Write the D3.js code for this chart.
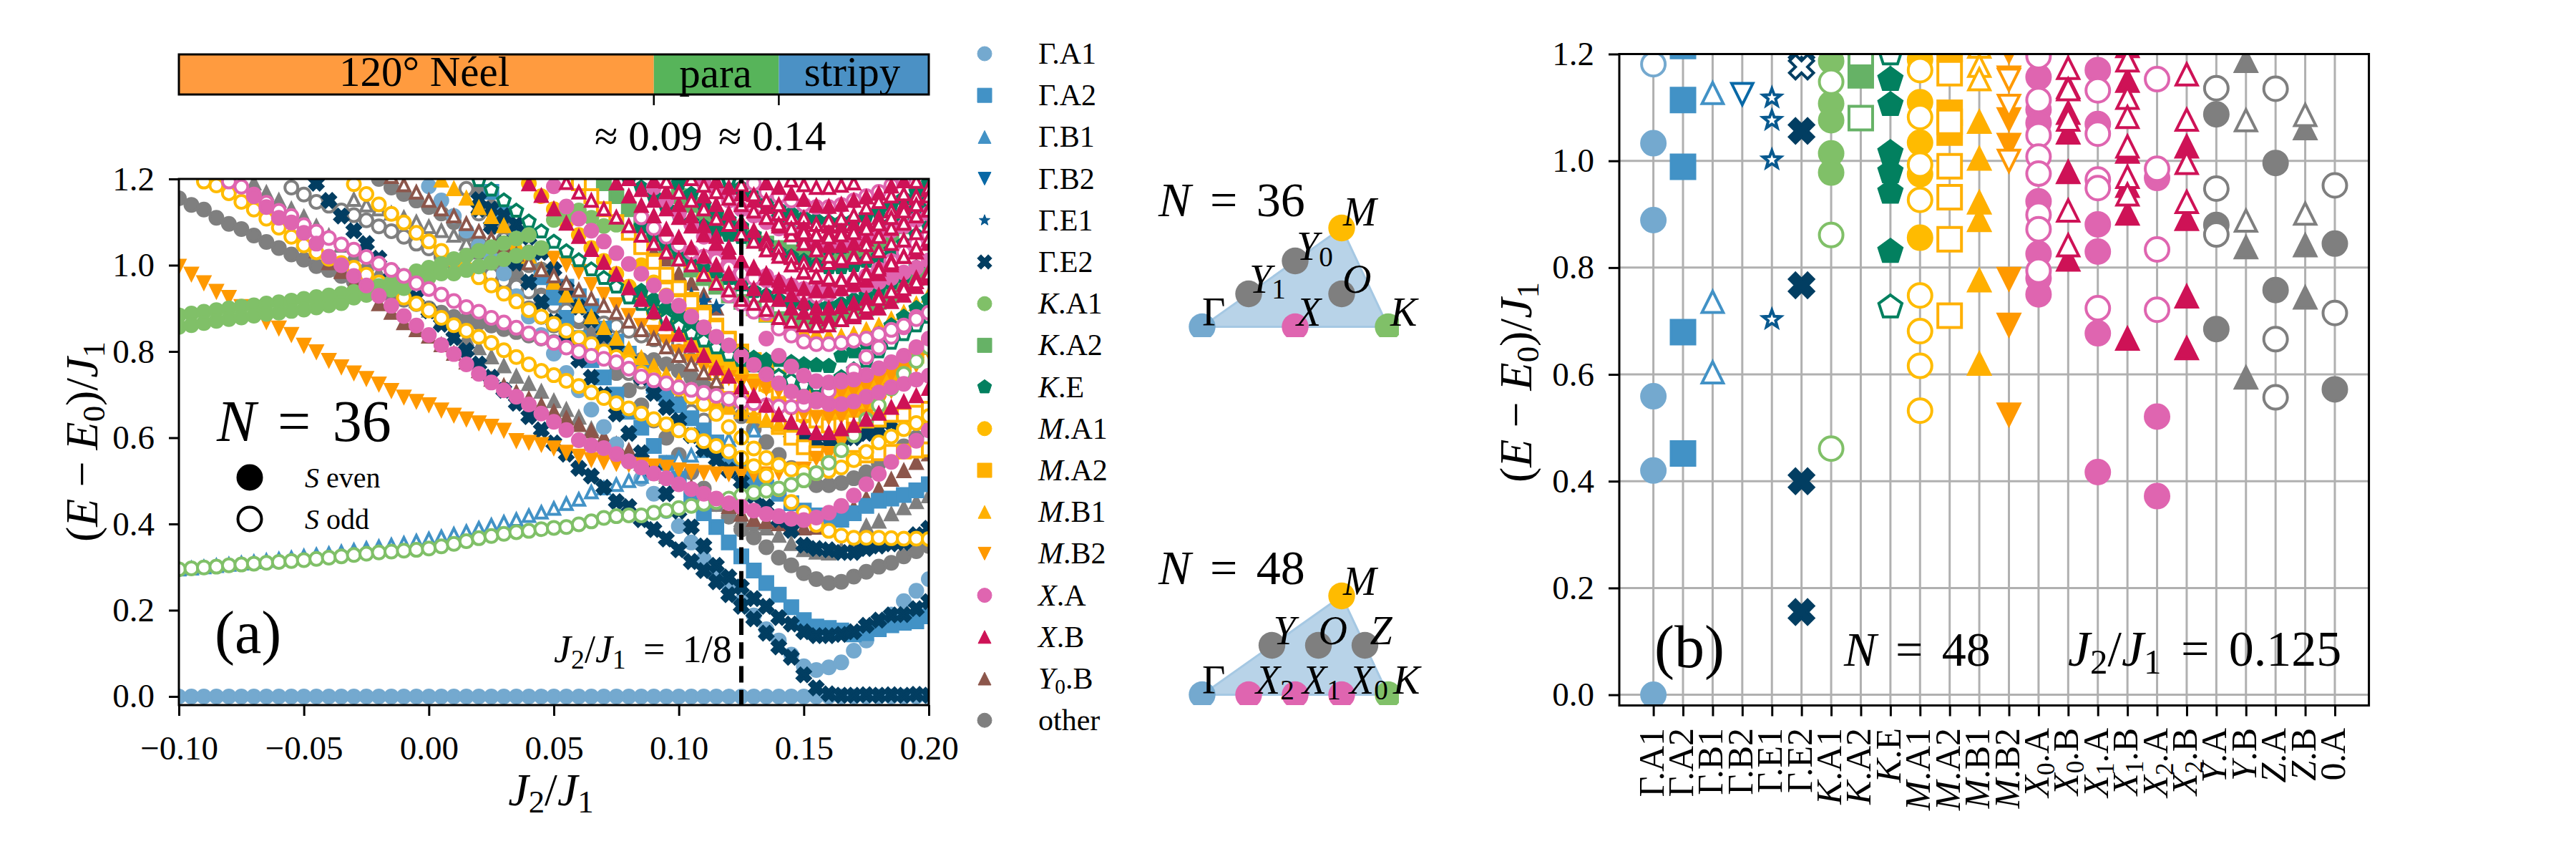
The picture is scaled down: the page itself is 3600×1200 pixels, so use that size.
<!DOCTYPE html>
<html><head><meta charset="utf-8">
<script src="https://cdn.jsdelivr.net/npm/d3@7/dist/d3.min.js"></script>
<style>html,body{margin:0;background:#fff}svg{display:block}text{font-family:"Liberation Serif",serif;white-space:pre;fill:#000}</style>
</head><body><div id="c"></div>
<script>
// ---------- legend / symmetry sectors
const sectors = ["Γ.A1","Γ.A2","Γ.B1","Γ.B2","Γ.E1","Γ.E2","K.A1","K.A2","K.E","M.A1","M.A2","M.B1","M.B2","X.A","X.B","Y0.B","other"];
const sectorText = ["Γ.A1","Γ.A2","Γ.B1","Γ.B2","Γ.E1","Γ.E2","*K*.A1","*K*.A2","*K*.E","*M*.A1","*M*.A2","*M*.B1","*M*.B2","*X*.A","*X*.B","*Y*_0.B","other"];
const sectorColor = ["#74a9cf","#4292c6","#4292c6","#0868a6","#08598f","#023e62","#80c068","#66b266","#02805f","#ffbb00","#ffb000","#ffb000","#ff9900","#df65b0","#ce1256","#8c564b","#7f7f7f"];
const sectorShape = ["o","s","^","v","*","X","o","s","p","o","s","^","v","o","^","^","o"];
// ---------- phase bar
const phaseEdges = [-0.10,0.09,0.14,0.20];
const phaseNames = ["120° Néel","para","stripy"];
const phaseColors = ["#ff9b3f","#57b45a","#4b91c5"];
const gammaA1Ground=[0,0,0,0,0,0,0,0,0,0,0,0,0,0,0,0,0,0,0,0,0,0,0,0,0,0,0,0,0,0,0,0,0,0,0,0,0,0,0,0,0,0,0,0,0,0,0,0,0,0,0,0,0,0,0,0,0,0,0,0,0];
const gammaA1Second=[1.183,1.15,1.114,1.08,1.045,1.015,.981,.928,.881,.838,.795,.75,.71,.665,.625,.585,.545,.505,.47,.43,.395,.357,.319,.286,.257,.221,.188,.156,.13,.097,.07,.0615,.0675,.079,.106,.13,.16,.19,.221,.245,.272];
const gammaA2Low=[1.17,1.12,1.07,1.02,.972,.925,.878,.831,.78,.74,.7,.66,.623,.581,.542,.505,.458,.425,.393,.357,.325,.292,.263,.236,.207,.177,.162,.159,.153,.144,.147,.156,.165,.171,.174,.186];
const gammaA2High=[.95,.928,.905,.853,.823,.795,.76,.72,.7,.675,.645,.617,.589,.555,.525,.5,.485,.47,.448,.431,.42,.415,.41,.425,.442,.454,.459,.467,.478,.492];
const gammaB1Odd=[.295,.297,.3,.303,.306,.309,.312,.315,.318,.321,.325,.328,.331,.335,.339,.343,.347,.351,.355,.36,.365,.37,.376,.382,.39,.397,.404,.41,.419,.427,.436,.447,.457,.474,.483,.491,.5,.51,.525,.54,.553,.559,.57,.582,.595,.605,.617,.64];
const gammaE1Even=[.93,.917,.903];
const gammaE2A=[1.19,1.15,1.114,1.08,1.05,1.016,.985,.955,.925,.894,.863,.832,.802,.771,.74,.71,.68,.649,.618,.588,.562,.529,.511,.485,.452,.44,.41,.387,.365,.34,.313,.292,.266,.236,.209,.18,.147,.115,.091,.05,.02,.006,.003,.003,.004,.003,.004,.003,.005,.003];
const gammaE2B=[1.13,1.09,1.05,1.005,.961,.914,.87,.825,.78,.74,.7,.655,.61,.565,.52,.47,.43,.393,.349,.304,.277,.254,.227,.209,.183,.168,.15,.141,.141,.144,.15,.165,.177,.189,.19,.2035,.22];
const gammaE2C=[1.152,1.13,1.115,1.094,1.065,1.03,.99,.945,.903,.873,.837,.803,.78,.74,.703,.67,.64,.605,.573,.55,.525,.498,.465,.44,.41,.385,.351,.343,.34,.334,.334,.343,.349,.354,.357,.375,.39];
const gammaE2D=[.63,.61,.6,.592,.59,.595,.6,.61,.62,.635];
const kA1EvenA=[.884,.888,.892,.896,.9,.904,.907,.911,.914,.918,.922,.926,.93,.934,.938,.945,.952,.96,.975,.986,.994,1.003,1.014,1.022,1.033,1.042,1.051,1.062,1.07];
const kA1EvenB=[.857,.861,.866,.871,.875,.879,.883,.887,.89,.894,.897,.902,.907,.912,.925,.931,.939,.943,.947,.972,.972,.981,.981,.989,.997,1.006,1.014,1.022,1.029,1.04];
const kA1EvenC=[1.105,1.115,1.127,1.11,1.091,1.094];
const kA1Odd=[.295,.297,.299,.301,.304,.306,.308,.31,.312,.314,.316,.319,.322,.325,.328,.331,.334,.336,.338,.34,.343,.348,.354,.36,.367,.372,.377,.381,.384,.388,.391,.393,.399,.406,.414,.418,.42,.42,.426,.431,.437,.442,.447,.451,.459,.466,.473,.477,.482,.491,.501,.518,.542,.571,.606,.642,.675,.714,.748,.778,.81];
const kA2Even=[1.16,1.14,1.12,1.105,1.09,1.075,1.06,1.05,1.04,1.03,1.025,1.02,1.02,1.025,1.03,1.04,1.05,1.07,1.09,1.11,1.13];
const kA2EvenB=[1.19,1.16,1.13,1.1,1.07,1.04,1.015,.99,.97,.95,.93,.915,.9,.885,.875,.87,.865,.865,.87,.875,.885,.9,.915,.93,.95,.97,.99];
const kEOdd=[1.197,1.175,1.15,1.126,1.101,1.078,1.054,1.032,1.011,.99,.97,.95,.925,.91,.89,.875,.859,.842,.825,.809,.792,.78,.767,.753,.743,.733,.722,.72,.725,.74,.758,.778,.8,.82,.84,.86,.88];
const kEOdd2=[1.2,1.18,1.16,1.14,1.11,1.08,1.05,1.039,1.039,1.042,1.06,1.072,1.083,1.097,1.11,1.13,1.15];
const kEEvenA=[.94,.92,.9,.885,.865,.85,.83,.81,.795,.785,.78,.78,.775,.77,.768,.766,.79,.8,.82,.84,.86,.88,.9,.92];
const kEEvenB=[1.09,1.07,1.05,1.03,1.015,1.0,.985,.97,.955,.94,.93,.92,.915,.91,.905,.905,.91,.92,.93,.945,.96,.975,.995,1.01];
const kEEvenC=[1.2,1.18,1.16,1.133,1.115,1.1,1.09,1.08,1.07,1.065,1.06];
const kEEvenD=[1.19,1.165,1.14,1.12,1.105,1.09,1.07,1.05,1.03,1.02,1.01,1.0,.995,.995,1.0,1.01,1.02,1.035,1.05,1.07,1.09];
const kEEvenE=[1.195,1.175,1.16,1.145,1.13,1.12,1.11,1.105,1.1,1.1,1.105,1.115,1.125,1.14,1.155,1.17,1.19];
const mA1OddLow=[1.194,1.185,1.167,1.147,1.129,1.108,1.087,1.066,1.046,1.03,1.015,1.005,.994,.978,.96,.945,.925,.911,.895,.878,.861,.848,.834,.82,.803,.787,.77,.755,.745,.732,.72,.705,.692,.68,.668,.656,.643,.631,.617,.606,.592,.581,.568,.553,.534,.512,.481,.451,.426,.398,.384,.373,.368,.368,.368,.367,.366,.366,.365];
const mA1OddHigh=[1.188,1.165,1.141,1.119,1.099,1.075,1.055,1.033,1.012,.992,.972,.953,.934,.916,.896,.881,.864,.848,.831,.817,.8,.787,.775,.75,.74,.727,.714,.695,.678,.655,.625,.6,.575,.553,.537,.526,.52,.518,.523,.531,.548,.567,.589,.603,.62,.634,.65];
const mA1Even=[1.0,.96,.93,.9,.878,.864,.84,.8,.77,.74,.72,.69,.67,.65,.64,.64,.65,.66,.68,.7,.72,.75,.78,.81];
const mA1EvenB=[1.19,1.16,1.13,1.1,1.07,1.04,1.01,.98,.95,.92,.89,.865,.84,.82,.8,.78,.765,.75,.74,.73,.72,.71,.705,.7,.7,.705,.715,.725,.74,.755,.77,.79,.81];
const mA2Even=[1.045,1.01,.974,.944,.92,.89,.86,.83,.8,.78,.76,.74,.72,.71,.7,.695,.7,.71,.72,.735,.75,.77,.79,.81];
const mA2OddUpper=[1.19,1.16,1.13,1.1,1.075,1.042,1.008,.978,.947,.914,.884,.856,.828,.795,.76,.725,.708,.68,.655,.64,.628,.63,.635,.64,.642,.653,.653,.658,.667];
const mA2OddLower=[.75,.72,.69,.67,.65,.625,.6,.578,.564,.555,.55,.553,.559,.564,.567,.568,.57,.573];
const mB1Even=[1.197,1.177,1.155,1.133,1.112,1.091,1.05,1.02,.99,.96,.93,.905,.88,.855,.83,.805,.785,.765,.745,.73,.71,.695,.68,.67,.66,.65,.64,.63];
const mB1EvenB=[1.1,1.07,1.04,1.01,.985,.96,.94,.92,.9,.885,.87,.855,.845,.84,.835,.835,.84,.85,.86,.875,.89,.91,.93];
const mB2Low=[.998,.98,.96,.94,.926,.905,.89,.87,.855,.84,.815,.8,.78,.765,.751,.738,.725,.71,.695,.685,.677,.665,.653,.644,.635,.627,.618,.594,.59,.585,.577,.567,.558,.55,.545,.541,.539,.538,.535,.532,.526,.523,.52,.517,.517,.517,.516,.517,.52,.526,.528,.553,.564,.59,.62,.65,.68,.71,.74,.77,.8];
const mB2High=[1.017,1.003,.986,.956,.933,.909,.884,.861,.845,.823,.8,.778,.764,.75,.74,.73,.72,.715,.71,.705,.7,.7,.7,.705,.71,.72,.733,.747,.76,.78,.8];
const mB2Mid=[.67,.655,.648,.648,.65,.66,.68,.7];
const xAEvenMain=[1.16,1.135,1.11,1.099,1.075,1.05,1.02,1.0,.975,.953,.929,.906,.882,.86,.838,.815,.794,.77,.748,.728,.71,.695,.677,.656,.637,.618,.594,.582,.576,.562,.545,.531,.517,.506,.492,.481,.47,.459,.448,.44,.431,.423,.418,.412,.409,.415,.426,.442,.466,.492,.516,.544,.568,.593,.617];
const xAEvenMid=[1.183,1.136,1.108,1.08,1.055,1.028,1.003,.98,.953,.928,.906,.881,.856,.834,.814,.79,.769,.747,.726,.707,.695,.684,.678,.678,.684,.695,.705,.717,.725,.735,.744];
const xAEvenHigh=[1.18,1.15,1.12,1.094,1.066,1.033,1.01,.99,.98,.975,.961,.953,.945,.939,.945,.95,.953,.953,.961,.97,.983,.994,1.011];
const xAEvenLow=[.83,.79,.765,.744,.731,.728,.73,.735,.745,.761,.775,.79,.81,.83];
const xAEvenTop=[1.19,1.17,1.15,1.13,1.115,1.1,1.085,1.075,1.065,1.055,1.05,1.05,1.055,1.06,1.07,1.08,1.09,1.105,1.12];
const xAOddMain=[1.194,1.182,1.164,1.145,1.126,1.114,1.093,1.078,1.063,1.048,1.036,1.019,1.004,.989,.975,.958,.945,.932,.917,.903,.892,.878,.867,.855,.842,.831,.82,.809,.8,.79,.783,.775,.76,.742,.733,.726,.717,.711,.704,.697,.69,.683,.68,.675,.672,.671,.676,.689,.708,.733,.756,.787,.809,.834,.856,.88];
const xAOddHigh=[1.111,1.086,1.066,1.047,1.03,1.02,1.011,.994,.98,.97,.965,.955,.945,.933,.928,.933,.945,.96,.975,.99,1.01,1.03,1.05,1.07];
const xAOddLow=[.93,.91,.892,.889,.853,.837,.823,.817,.817,.82,.825,.83,.84,.85,.86,.875,.89];
const xAOddTop=[1.19,1.17,1.16,1.15,1.14,1.135,1.135,1.14,1.15,1.16,1.17,1.185,1.2];
const xBEven1=[1.188,1.161,1.13,1.097,1.066,1.036,1.006,.978,.947,.92,.892,.864,.839,.814,.79,.761,.742,.717,.697,.675,.653,.636,.623,.611,.611,.62,.628,.642,.656,.67,.683,.697,.714];
const xBEven2=[1.19,1.16,1.138,1.114,1.083,1.064,1.04,1.02,1.0,.98,.96,.945,.93,.92,.9,.89,.88,.875,.875,.88,.89,.9,.915,.93,.95,.97];
const xBEven3=[1.195,1.17,1.14,1.114,1.091,1.066,1.041,1.011,.992,.97,.95,.931,.914,.9,.9,.903,.911,.922,.93,.94,.955,.97,.985];
const xBEven4=[1.16,1.14,1.12,1.1,1.08,1.06,1.028,1.017,.983,.972,.967,.967,.975,.983,.995,1.01,1.02,1.03,1.05];
const xBEven5=[1.19,1.18,1.166,1.152,1.138,1.136,1.141,1.15,1.158,1.166,1.183,1.195];
const xBEven6=[1.1,1.08,1.06,1.05,1.045,1.045,1.05,1.06,1.07,1.085,1.1,1.115,1.13];
const xBEven7=[1.2,1.175,1.15,1.13,1.11,1.09,1.07,1.05,1.03,1.01,.995,.98,.965,.955,.945,.94,.94,.945,.955,.965,.98,1.0,1.02,1.04,1.06];
const xBEven8=[1.195,1.18,1.165,1.15,1.135,1.12,1.11,1.1,1.095,1.09,1.09,1.095,1.1,1.11,1.125,1.14,1.155,1.175];
const xBOdd0=[1.191,1.169,1.15,1.13,1.111,1.091,1.069,1.05,1.03,1.014,1.0,.978,.958,.942,.92,.911,.897,.878,.87,.861,.859,.861,.873,.886,.903,.922,.939,.945,.961,.98];
const xBOdd1=[1.194,1.169,1.15,1.13,1.108,1.094,1.072,1.055,1.05,1.039,1.019,1.005,1.0,1.006,1.01,1.022,1.047,1.066,1.086,1.097,1.114,1.127];
const xBOdd2=[1.186,1.163,1.15,1.119,1.11,1.11,1.094,1.103,1.108,1.116,1.133,1.147,1.16,1.165,1.194];
const xBOdd3=[1.14,1.11,1.085,1.072,1.075,1.078,1.08,1.094,1.1,1.127,1.135,1.16,1.18];
const xBOdd4=[1.197,1.186,1.18,1.18,1.185,1.19];
const xBOdd5=[1.09,1.07,1.05,1.035,1.02,1.015,1.018,1.02,1.033,1.05,1.058,1.075,1.09];
const xBOdd6=[1.2,1.185,1.17,1.155,1.14,1.125,1.11,1.095,1.085,1.075,1.07,1.065,1.07,1.075,1.085,1.095,1.11,1.125,1.14,1.16];
const xBOdd7=[1.035,1.02,1.0,.985,.975,.97,.965,.97,.98,.99,1.005,1.02,1.04,1.06];
const y0BEven=[1.058,1.033,1.005,.985,.958,.937,.91,.89,.866,.85,.835,.815,.795,.775,.755,.735,.72,.705,.69,.675,.66,.645,.63,.615,.6,.585,.57,.55,.53,.515,.5,.485,.47,.455,.44,.422,.41,.405,.4,.395,.39,.392,.4,.415,.437,.459,.481,.503,.523,.542,.562];
const y0BEven2=[1.09,1.07,1.03,1.014,.98,.958,.93,.9];
const y0BOdd=[1.205,1.186,1.169,1.15,1.13,1.114,1.096,1.078,1.061,1.045,1.025,1.005,.989,.975,.958,.942,.922,.906,.89,.87,.85,.83,.81,.79,.77,.75,.73];
const otherEvenA=[1.155,1.14,1.129,1.11,1.096,1.084,1.069,1.054,1.04,1.025,1.013,.998,.989,.975,.962,.95,.94,.93,.92,.91,.9,.89,.88,.873,.867,.86,.852,.845,.837,.83,.822,.815,.808,.802,.797,.79,.785,.78,.78,.77,.755,.74,.72,.7,.675,.65,.62,.59,.56,.53,.505,.49,.49,.495,.506,.52,.54,.56,.58,.6,.62];
const otherEvenB=[1.17,1.135,1.1,1.065,1.03,.99,.95,.91,.87,.83,.79,.75,.71,.675,.64,.6,.56,.52,.482,.446,.417,.387,.369,.346,.322,.304,.286,.272,.263,.266,.278,.289,.301,.31,.325,.337,.349];
const otherEvenC=[1.2,1.18,1.165,1.15,1.135,1.12,1.1,1.07,1.05,1.03,1.0,.975,.95,.93,.91,.89,.87,.85,.83,.81,.79];
const otherOdd=[1.18,1.164,1.147,1.138,1.127,1.116,1.104,1.09,1.079,1.066,1.05,1.039,1.02,1.005,.99,.975,.96,.94,.92,.9,.88,.86,.84,.82,.8,.785,.77,.75,.73,.715,.7,.68,.66,.64];
const otherOdd2=[.978,.964,.95,.939,.922,.906,.895,.878,.87,.865,.859,.848,.837,.828,.82,.8,.78];
const otherOdd3=[1.177,1.12,1.09,1.06,1.03,1.0];
const otherTriEven=[1.19,1.168,1.15,1.13,1.112,1.09,1.068,1.046,1.025,1.003,.981,.96,.938,.917,.895,.873,.852,.83,.808,.787,.766,.742,.725,.707,.685,.665,.647,.62,.6,.58,.56,.54,.525,.51,.495,.48,.465,.445,.43,.41,.401,.39,.373,.354,.34,.334,.332,.34,.355,.395,.406,.423,.437,.451,.465];
const otherTriOdd=[1.152,1.139,1.13,1.12,1.11,1.1,1.089,1.08,1.069,1.05,1.03,1.01];
// [sector, even?, first sweep index, values, marker override]
const levelsA = [
 ["other",1,0,otherEvenA],["other",1,24,otherEvenB],["other",1,16,otherEvenC],["other",0,9,otherOdd],["other",0,25,otherOdd2],["other",0,23,otherOdd3],["other",1,6,otherTriEven,"^"],["other",0,14,otherTriOdd,"^"],
 ["Y0.B",1,10,y0BEven],["Y0.B",1,36,y0BEven2],
 ["Γ.A1",1,0,gammaA1Ground],["Γ.A1",1,20,gammaA1Second],
 ["Γ.A2",1,25,gammaA2Low],["Γ.A2",1,31,gammaA2High],
 ["Γ.B1",0,0,gammaB1Odd],["Γ.E1",1,41,gammaE1Even],
 ["Γ.E2",1,11,gammaE2A],["Γ.E2",1,24,gammaE2B],["Γ.E2",1,24,gammaE2C],["Γ.E2",1,48,gammaE2D],
 ["K.A2",1,40,kA2Even],["K.A2",1,34,kA2EvenB],
 ["M.A1",1,37,mA1Even],["M.A1",1,28,mA1EvenB],["M.A2",1,37,mA2Even],["M.A2",0,32,mA2OddUpper],["M.A2",0,43,mA2OddLower],["M.B1",1,21,mB1Even],["M.B1",1,38,mB1EvenB],["M.B2",1,0,mB2Low],["M.B2",1,30,mB2High],["M.B2",1,49,mB2Mid],
 ["M.A1",0,2,mA1OddLow],["M.A1",0,14,mA1OddHigh],
 ["Y0.B",0,17,y0BOdd],
 ["K.E",1,37,kEEvenA],["K.E",1,37,kEEvenB],["K.E",1,36,kEEvenC],["K.E",1,40,kEEvenD],["K.E",1,44,kEEvenE],["K.E",0,24,kEOdd],["K.E",0,44,kEOdd2],
 ["K.A1",1,0,kA1EvenA],["K.A1",1,0,kA1EvenB],["K.A1",1,30,kA1EvenC],["K.A1",0,0,kA1Odd],
 ["X.A",0,4,xAOddMain],["X.A",1,6,xAEvenMain],["X.A",1,30,xAEvenMid],["X.A",1,38,xAEvenHigh],["X.A",1,47,xAEvenLow],["X.A",1,42,xAEvenTop],["X.A",0,37,xAOddHigh],["X.A",0,44,xAOddLow],["X.A",0,46,xAOddTop],
 ["X.B",1,28,xBEven1],["X.B",1,35,xBEven2],["X.B",1,38,xBEven3],["X.B",1,42,xBEven4],["X.B",1,47,xBEven5],["X.B",1,48,xBEven6],["X.B",1,36,xBEven7],["X.B",1,43,xBEven8],
 ["X.B",0,31,xBOdd0],["X.B",0,39,xBOdd1],["X.B",0,45,xBOdd2],["X.B",0,48,xBOdd3],["X.B",0,49,xBOdd4],["X.B",0,48,xBOdd5],["X.B",0,41,xBOdd6],["X.B",0,47,xBOdd7]
];
// ---------- panel (b)
const catNames=["Γ.A1","Γ.A2","Γ.B1","Γ.B2","Γ.E1","Γ.E2","*K*.A1","*K*.A2","*K*.E","*M*.A1","*M*.A2","*M*.B1","*M*.B2","*X*_0.A","*X*_0.B","*X*_1.A","*X*_1.B","*X*_2.A","*X*_2.B","*Y*.A","*Y*.B","*Z*.A","*Z*.B","0.A"];
const catShape=["o","s","^","v","*","X","o","s","p","o","s","^","v","o","^","o","^","o","^","o","^","o","^","o"];
const catColor=["#74a9cf","#4292c6","#4292c6","#0868a6","#08598f","#023e62","#80c068","#66b266","#02805f","#ffbb00","#ffb000","#ffb000","#ff9900","#df65b0","#ce1256","#df65b0","#ce1256","#df65b0","#ce1256","#7f7f7f","#7f7f7f","#7f7f7f","#7f7f7f","#7f7f7f"];
const evenLevels=[[1.033,.889,.559,.42,0],[1.215,1.114,.989,.679,.452],[],[],[],[1.056,.767,.40,.155],[1.187,1.107,1.076,1.014,.978],[1.16],[1.152,1.105,1.015,.979,.941,.83],[1.19,1.11,1.034,.975,.856],[1.21,1.09,1.053],[1.073,1.004,.922,.889,.776,.62],[1.205,1.078,1.03,.779,.693,.525],[1.157,1.096,1.071,.924,.826,.78,.75],[1.138,1.09,1.053,.979,.815],[1.17,1.069,.881,.83,.677,.417],[1.215,1.15,1.017,.953,.901,.667],[.968,.521,.372],[1.027,.891,.746,.649],[1.087,.88,.685],[1.187,.838,.594],[.996,.758],[1.061,.842,.744],[.845,.572]];
const oddLevels=[[1.181],[],[1.127,.736,.604],[1.125],[1.118,1.076,1.002,.703],[1.205,1.176],[1.148,.861,.461],[1.2,1.08],[1.2,.726],[1.17,1.082,.993,.927,.748,.681,.616,.532],[1.164,1.073,.99,.932,.853,.71],[1.214,1.178,1.153],[1.156,1.152,1.103,1.0],[1.196,1.114,1.048,1.008,.976,.899,.872,.794],[1.174,1.134,1.077,.907,.842],[1.132,1.051,.965,.949,.724],[1.188,1.118,1.082,1.027,.97,.937],[1.153,.985,.834,.721],[1.162,1.077,.996,.923],[1.136,.948,.862],[1.076,.888],[1.135,.666,.557],[1.086,.901],[.954,.715]];
const bandTicks=[0,0.2,0.4,0.6,0.8,1.0,1.2];
const sweepTicks=[-0.10,-0.05,0,0.05,0.10,0.15,0.20];
// ---------- insets (Brillouin-zone points)
const bzCorners=[[0,0],[1,0],[0.75,0.433]];
const inset36=[["#74a9cf",0,0],["#df65b0",.5,0],["#80c068",1,0],["#ffbb00",.75,.433],["#7f7f7f",.5,.2887],["#7f7f7f",.25,.1443],["#7f7f7f",.75,.1443]];
const inset48=[["#74a9cf",0,0],["#df65b0",.25,0],["#df65b0",.5,0],["#df65b0",.75,0],["#80c068",1,0],["#ffbb00",.75,.433],["#7f7f7f",.375,.2165],["#7f7f7f",.625,.2165],["#7f7f7f",.875,.2165]];
const inset36Text=[["Γ",0,0,0,-2],["*X*",.5,0,2,-2],["*K*",1,0,3,-2],["*M*",.75,.433,2,-4],["*Y*_0",.5,.2887,2,-1],["*Y*_1",.25,.1443,1,-2],["*O*",.75,.1443,1,-2]];
const inset48Text=[["Γ",0,0,0,-2],["*X*_2",.25,0,10,-2],["*X*_1",.5,0,10,-2],["*X*_0",.75,0,11,-2],["*K*",1,0,7,-2],["*M*",.75,.433,2,-2],["*Y*",.375,.2165,2,-2],["*O*",.625,.2165,0,-2],["*Z*",.875,.2165,7,-2]];

// ---------- drawing helpers
const W=3600,H=1200;
const svg=d3.select("#c").append("svg").attr("width",W).attr("height",H).attr("viewBox",`0 0 ${W} ${H}`);
function rich(t,s,fs){
  const re=/\*([^*]+)\*|_(.)|([^*_]+)/g; let m,back=0;
  while((m=re.exec(s))){
    const ts=t.append("tspan");
    if(m[2]){ts.text(m[2]).attr("font-size",fs*0.7).attr("dy",fs*0.16);back=fs*0.16;}
    else{ts.text(m[1]||m[3]).attr("font-style",m[1]?"italic":null);if(back){ts.attr("dy",-back);back=0;}}
  }
  return t;
}
function label(g,s,x,y,fs,anchor,rot,ws){
  const t=g.append("text").attr("font-size",fs).attr("text-anchor",anchor||"start");
  if(ws)t.attr("word-spacing",ws*fs);
  if(rot)t.attr("transform",`translate(${x},${y}) rotate(${rot})`);else t.attr("x",x).attr("y",y);
  return rich(t,s,fs);
}
const shapes={
 o:{draw(c,s){const r=Math.sqrt(s);c.arc(0,0,r,0,2*Math.PI);}},
 s:{draw(c,s){const r=Math.sqrt(s);c.rect(-r,-r,2*r,2*r);}},
 "^":{draw(c,s){const r=Math.sqrt(s)*.9;c.moveTo(0,-r);c.lineTo(r,r);c.lineTo(-r,r);c.closePath();}},
 v:{draw(c,s){const r=Math.sqrt(s)*.9;c.moveTo(0,r);c.lineTo(r,-r);c.lineTo(-r,-r);c.closePath();}},
 p:{draw(c,s){const r=Math.sqrt(s)*1.03;for(let i=0;i<5;i++){const a=-Math.PI/2+i*2*Math.PI/5;c[i?"lineTo":"moveTo"](r*Math.cos(a),r*Math.sin(a));}c.closePath();}},
 "*":{draw(c,s){const r=Math.sqrt(s)*.96;for(let i=0;i<10;i++){const q=i%2?r*.42:r,a=-Math.PI/2+i*Math.PI/5;c[i?"lineTo":"moveTo"](q*Math.cos(a),q*Math.sin(a));}c.closePath();}},
 X:{draw(c,s){const r=Math.sqrt(s)/2*1.02;[[-1,-2],[0,-1],[1,-2],[2,-1],[1,0],[2,1],[1,2],[0,1],[-1,2],[-2,1],[-1,0],[-2,-1]].forEach((p,i)=>c[i?"lineTo":"moveTo"](p[0]*r,p[1]*r));c.closePath();}}
};
function marker(g,shape,color,even,x,y,R,sw){
  const scale=shape==="*"?.84:1;
  const r=(R*scale-sw/2);
  g.append("path").attr("d",d3.symbol().type(shapes[shape]).size(r*r)())
   .attr("transform",`translate(${x},${y})`)
   .attr("fill",even?color:"#fff").attr("stroke",color).attr("stroke-width",sw).attr("stroke-linejoin","miter");
}
function frame(g,x0,x1,y0,y1,w){
  g.append("rect").attr("x",x0).attr("y",y0).attr("width",x1-x0).attr("height",y1-y0).attr("fill","none").attr("stroke","#000").attr("stroke-width",w);
}
function axisStyle(g,fs){
  g.select(".domain").remove();
  g.selectAll(".tick line").attr("stroke","#000").attr("stroke-width",3);
  g.selectAll("text").attr("font-size",fs).attr("font-family","Liberation Serif").attr("fill","#000");
}

// ---------- phase bar
const xA=d3.scaleLinear().domain([-0.10,0.20]).range([250,1298]);
const yA=d3.scaleLinear().domain([-0.02,1.2]).range([985,250]);
const bar=svg.append("g");
phaseNames.forEach((n,i)=>{
  const a=xA(phaseEdges[i]),b=xA(phaseEdges[i+1]);
  bar.append("rect").attr("x",a).attr("y",76).attr("width",b-a).attr("height",56).attr("fill",phaseColors[i]);
  bar.append("text").attr("x",[593,1000,1191][i]).attr("y",[120,122,120][i]).attr("text-anchor","middle").attr("font-size",59).text(n);
});
frame(bar,250,1298,76,132,3);
[0.09,0.14].forEach(v=>bar.append("line").attr("x1",xA(v)).attr("x2",xA(v)).attr("y1",132).attr("y2",147).attr("stroke","#000").attr("stroke-width",2.5));
bar.append("text").attr("x",831).attr("y",210).attr("font-size",59).text("≈ 0.09");
bar.append("text").attr("x",1004).attr("y",210).attr("font-size",59).text("≈ 0.14");

// ---------- panel a
const defs=svg.append("defs");
defs.append("clipPath").attr("id","clipA").append("rect").attr("x",250).attr("y",250).attr("width",1048).attr("height",735);
defs.append("clipPath").attr("id","clipB").append("rect").attr("x",2263).attr("y",75.5).attr("width",1047.6).attr("height",910);
defs.append("clipPath").attr("id","clip36").append("rect").attr("x",1640).attr("y",280).attr("width",315).attr("height",191);
defs.append("clipPath").attr("id","clip48").append("rect").attr("x",1640).attr("y",795).attr("width",315).attr("height",190);
const pa=svg.append("g").attr("clip-path","url(#clipA)");
const sweep=d3.range(61).map(i=>-0.10+0.005*i);
levelsA.forEach(([name,even,start,vals,shapeOver])=>{
  const k=sectors.indexOf(name);
  vals.forEach((v,j)=>{ if(start+j<61) marker(pa,shapeOver||sectorShape[k],sectorColor[k],even,xA(sweep[start+j]),yA(v),11,4); });
});
pa.append("line").attr("x1",xA(0.125)).attr("x2",xA(0.125)).attr("y1",250).attr("y2",985).attr("stroke","#000").attr("stroke-width",6).attr("stroke-dasharray","23 10.2").attr("stroke-dashoffset",16.7);
const gxA=svg.append("g").attr("transform","translate(0,985)").call(d3.axisBottom(xA).tickValues(sweepTicks).tickSize(15).tickPadding(28).tickFormat(d=>d3.format(".2f")(d).replace("-","−")));
axisStyle(gxA,47);
const gyA=svg.append("g").attr("transform","translate(250,0)").call(d3.axisLeft(yA).tickValues(bandTicks).tickSize(14).tickPadding(20).tickFormat(d3.format(".1f")));
axisStyle(gyA,47);
frame(svg,250,1298,250,985,3);
label(svg,"*J*_2/*J*_1",770,1125,64,"middle");
label(svg,"(*E* − *E*_0)/*J*_1",136,617,64,"middle",-90);
const noteA=svg.append("g");
label(noteA,"*N* = 36",303,616,82,"start",0,.12);
label(noteA,"(a)",300,912,84);
label(noteA,"*J*_2/*J*_1 = 1/8",774,925,54,"start",0,.2);
marker(noteA,"o","#000",1,349,667,18.5,4);
marker(noteA,"o","#000",0,349,725,18.5,4);
label(noteA,"*S* even",426,681,40);
label(noteA,"*S* odd",426,739,40);

// ---------- legend
const lg=svg.append("g");
sectors.forEach((n,i)=>{
  const y=75+i*58.2;
  marker(lg,sectorShape[i],sectorColor[i],1,1376,y,10.5,1);
  label(lg,sectorText[i],1451,y+14,42);
});

// ---------- insets
const ix=d3.scaleLinear().domain([0,1]).range([1680,1940]);
function inset(yBase,pts,txt,clip,title,titleY){
  const iy=d3.scaleLinear().domain([0,.433]).range([yBase,yBase-138]);
  const g=svg.append("g");
  label(g,title,1619,titleY,68,"start",0,.14);
  g.append("path").attr("d",d3.line()(bzCorners.map(p=>[ix(p[0]),iy(p[1])]))+"Z").attr("fill","#b8d3e8").attr("stroke","#a5c8e3").attr("stroke-width",3);
  const c=g.append("g").attr("clip-path",`url(#${clip})`);
  pts.forEach(p=>c.append("circle").attr("cx",ix(p[1])).attr("cy",iy(p[2])).attr("r",18.7).attr("fill",p[0]));
  txt.forEach(p=>label(g,p[0],ix(p[1])+p[3],iy(p[2])+p[4],56));
}
inset(456.5,inset36,inset36Text,"clip36","*N* = 36",302);
inset(970.5,inset48,inset48Text,"clip48","*N* = 48",816);

// ---------- panel b
const xB=d3.scaleLinear().domain([-1.15,24.15]).range([2263,3310.6]);
const yB=d3.scaleLinear().domain([-0.02,1.2]).range([985.5,75.5]);
const gridB=svg.append("g");
catNames.forEach((n,i)=>gridB.append("line").attr("x1",xB(i)).attr("x2",xB(i)).attr("y1",75.5).attr("y2",985.5).attr("stroke","#b0b0b0").attr("stroke-width",3));
bandTicks.forEach(v=>gridB.append("line").attr("x1",2263).attr("x2",3310.6).attr("y1",yB(v)).attr("y2",yB(v)).attr("stroke","#b0b0b0").attr("stroke-width",3));
const pb=svg.append("g").attr("clip-path","url(#clipB)");
catNames.forEach((n,i)=>{
  evenLevels[i].forEach(v=>marker(pb,catShape[i],catColor[i],1,xB(i),yB(v),18.5,4));
  oddLevels[i].forEach(v=>marker(pb,catShape[i],catColor[i],0,xB(i),yB(v),18.5,4));
});
const gxB=svg.append("g").attr("transform","translate(0,985.5)").call(d3.axisBottom(xB).tickValues(d3.range(24)).tickSize(15).tickFormat(""));
axisStyle(gxB,47);
const gyB=svg.append("g").attr("transform","translate(2263,0)").call(d3.axisLeft(yB).tickValues(bandTicks).tickSize(15).tickPadding(20).tickFormat(d3.format(".1f")));
axisStyle(gyB,47);
frame(svg,2263,3310.6,75.5,985.5,3);
catNames.forEach((n,i)=>label(svg,n,xB(i)+14,1017,50,"end",-90));
label(svg,"(*E* − *E*_0)/*J*_1",2140,534,64,"middle",-90);
const noteB=svg.append("g");
label(noteB,"(b)",2312,932,84);
label(noteB,"*N* = 48",2577,930,68,"start",0,.14);
label(noteB,"*J*_2/*J*_1 = 0.125",2890,930,70,"start",0,.14);
</script></body></html>
